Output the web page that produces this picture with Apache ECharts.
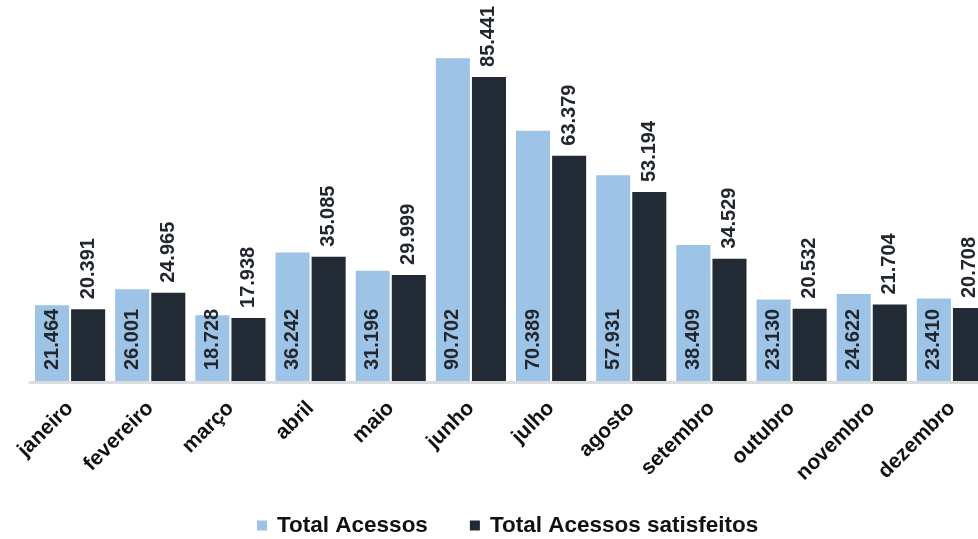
<!DOCTYPE html>
<html>
<head>
<meta charset="utf-8">
<script src="https://cdn.jsdelivr.net/npm/echarts@6/dist/echarts.min.js"></script>
<style>
  html, body { margin: 0; padding: 0; background: #ffffff; overflow: hidden; }
  /* the plot runs a little past the right edge of the page */
  #chart { width: 1000px; height: 539px; }
</style>
</head>
<body>
<div id="chart"></div>
<script>
// Monthly access totals
const months = ['janeiro', 'fevereiro', 'março', 'abril', 'maio', 'junho',
  'julho', 'agosto', 'setembro', 'outubro', 'novembro', 'dezembro'];
const totalAcessos = [21.464, 26.001, 18.728, 36.242, 31.196, 90.702,
  70.389, 57.931, 38.409, 23.130, 24.622, 23.410];
const totalSatisfeitos = [20.391, 24.965, 17.938, 35.085, 29.999, 85.441,
  63.379, 53.194, 34.529, 20.532, 21.704, 20.708];
const seriesNames = ['Total Acessos', 'Total Acessos satisfeitos'];

const fmt = v => v.toFixed(3);
const fontFamily = '"Liberation Sans", Arial, sans-serif';

const valueLabel = {
  show: true,
  rotate: 90,
  align: 'left',
  verticalAlign: 'middle',
  fontSize: 20,
  fontWeight: 'bold',
  color: '#22262d',
  fontFamily: fontFamily,
  formatter: p => fmt(p.value)
};

const chart = echarts.init(document.getElementById('chart'));
chart.setOption({
  animation: false,
  textStyle: { fontFamily: fontFamily },
  grid: { left: 30, top: 25, width: 962, bottom: 157, containLabel: false, outerBoundsMode: 'none' },
  legend: {
    top: 509,
    left: 252,
    itemWidth: 10,
    itemHeight: 10,
    itemGap: 42,
    icon: 'rect',
    textStyle: {
      fontSize: 22.5,
      fontWeight: 'bold',
      color: '#111',
      fontFamily: fontFamily,
      padding: [0, 0, 0, 5]
    },
    data: seriesNames
  },
  xAxis: {
    type: 'category',
    data: months,
    z: 10,
    axisLine: { lineStyle: { color: '#dcdcdc', width: 3 } },
    axisTick: { show: false },
    axisLabel: {
      rotate: 45,
      interval: 0,
      margin: 23,
      fontSize: 21,
      fontWeight: 'bold',
      color: '#111',
      fontFamily: fontFamily
    }
  },
  yAxis: {
    type: 'value',
    min: 0,
    max: 100,
    show: false,
    splitLine: { show: false }
  },
  series: [
    {
      name: seriesNames[0],
      type: 'bar',
      data: totalAcessos,
      barGap: '6%',
      barCategoryGap: '12.5%',
      itemStyle: { color: '#9dc3e6' },
      label: Object.assign({}, valueLabel, { position: 'insideBottom', distance: 12 })
    },
    {
      name: seriesNames[1],
      type: 'bar',
      data: totalSatisfeitos,
      itemStyle: { color: '#222a35' },
      label: Object.assign({}, valueLabel, { position: 'top', distance: 10 })
    }
  ]
});
</script>
</body>
</html>
